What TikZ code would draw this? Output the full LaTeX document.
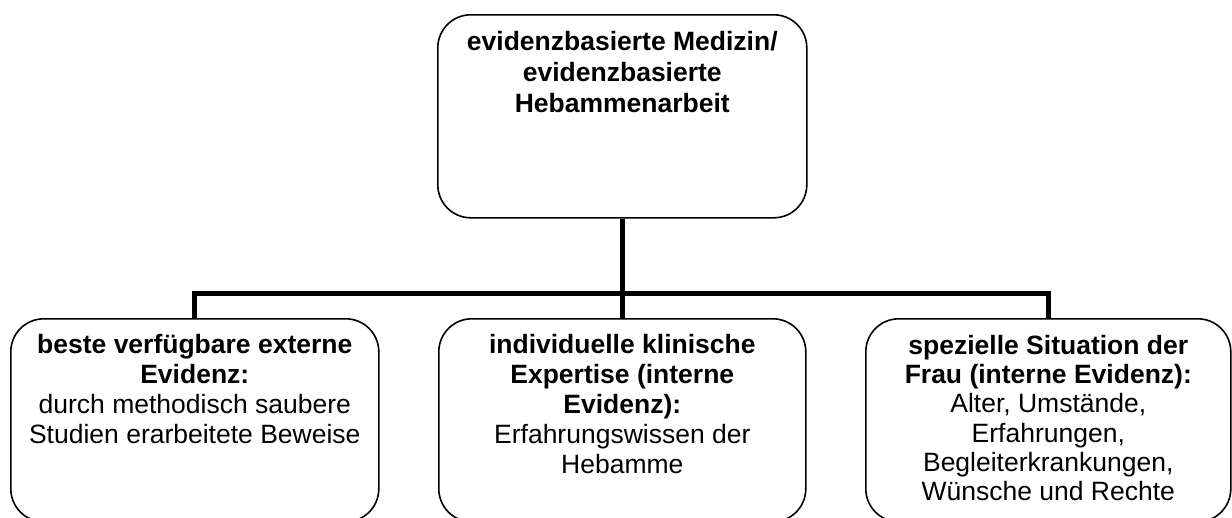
\documentclass[tikz,border=0pt]{standalone}
\usepackage{fontspec}
\setmainfont{Liberation Sans}
\begin{document}
\begin{tikzpicture}[x=1pt,y=-1pt,
  box/.style={draw, line width=1.6pt, rounded corners=33pt, inner sep=0pt, anchor=north west, minimum height=203pt},
  conn/.style={line width=5pt, line join=miter},
  txt/.style={align=center, inner sep=0pt, anchor=north, font=\fontsize{26.5}{30}\selectfont}]
\useasboundingbox (0,0) rectangle (1232,517);
\clip (0,0) rectangle (1232,517);
\node[box, minimum width=369pt] (top) at (437,14) {};
\node[box, minimum width=368pt] (left) at (10,318) {};
\node[box, minimum width=367pt] (mid) at (438,318) {};
\node[box, minimum width=365pt] (right) at (865,318) {};
\coordinate (hbar) at (0,293);
\draw[conn] (top.south) -- (mid.north);
\draw[conn] (left.north) -- (left.north |- hbar) -- (right.north |- hbar) -- (right.north);
\node[txt, font=\fontsize{26.5}{31}\selectfont\bfseries] (topT) at ([yshift=-17pt]top.north)
  {evidenzbasierte Medizin/\\evidenzbasierte\\Hebammenarbeit};
\node[txt] (leftT) at ([yshift=-16pt]left.north)
  {\textbf{beste verfügbare externe}\\\textbf{Evidenz:}\\durch methodisch saubere\\Studien erarbeitete Beweise};
\node[txt] (midT) at ([yshift=-16pt]mid.north)
  {\textbf{individuelle klinische}\\\textbf{Expertise (interne}\\\textbf{Evidenz):}\\Erfahrungswissen der\\Hebamme};
\node[txt, font=\fontsize{26.5}{29.2}\selectfont] (rightT) at ([yshift=-17pt]right.north)
  {\textbf{spezielle Situation der}\\\textbf{Frau (interne Evidenz):}\\Alter, Umstände,\\Erfahrungen,\\Begleiterkrankungen,\\Wünsche und Rechte};
\end{tikzpicture}
\end{document}
